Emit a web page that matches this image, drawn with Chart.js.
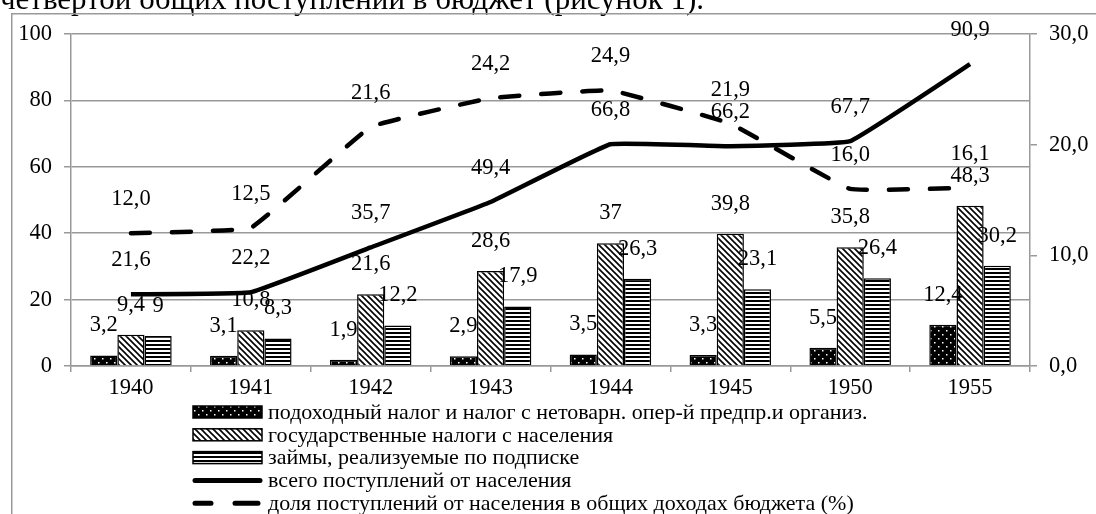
<!DOCTYPE html>
<html>
<head>
<meta charset="utf-8">
<script src="https://cdn.jsdelivr.net/npm/chart.js@4/dist/chart.umd.min.js"></script>
<style>
  html, body { margin: 0; padding: 0; background: #fff; overflow: hidden; }
  #chart { display: block; }
</style>
</head>
<body>
<canvas id="chart" width="1096" height="514"></canvas>
<script>
const years = ['1940', '1941', '1942', '1943', '1944', '1945', '1950', '1955'];
const incomeTax = [3.2, 3.1, 1.9, 2.9, 3.5, 3.3, 5.5, 12.4];
const stateTaxes = [9.4, 10.8, 21.6, 28.6, 37, 39.8, 35.8, 48.3];
const loans = [9, 8.3, 12.2, 17.9, 26.3, 23.1, 26.4, 30.2];
const totalIncome = [21.6, 22.2, 35.7, 49.4, 66.8, 66.2, 67.7, 90.9];
const budgetShare = [12.0, 12.5, 21.6, 24.2, 24.9, 21.9, 16.0, 16.1];
const leftTicks = [0, 20, 40, 60, 80, 100];
const rightTicks = [0, 10, 20, 30];
const seriesNames = [
    'подоходный налог и налог с нетоварн. опер-й предпр.и организ.',
    'государственные налоги с населения',
    'займы, реализуемые по подписке',
    'всего поступлений от населения',
    'доля поступлений от населения в общих доходах бюджета (%)'
];
const leadText = 'четвертой общих поступлений в бюджет (рисунок 1).';

const FONT = "'Liberation Serif', 'Times New Roman', serif";
const GRAY = '#999';

function tile(w, h, paint) {
    const c = document.createElement('canvas');
    c.width = w; c.height = h;
    const g = c.getContext('2d');
    paint(g);
    return document.getElementById('chart').getContext('2d').createPattern(c, 'repeat');
}

const dotFill = tile(8, 8, g => {
    g.fillStyle = '#000';
    g.fillRect(0, 0, 8, 8);
    g.fillStyle = '#fff';
    g.fillRect(2, 2, 1.5, 1.5);
    g.fillRect(6, 6, 1.5, 1.5);
});
const diagFill = tile(6, 6, g => {
    g.fillStyle = '#fff';
    g.fillRect(0, 0, 6, 6);
    g.strokeStyle = '#000';
    g.lineWidth = 1.6;
    g.beginPath();
    g.moveTo(-1, -1); g.lineTo(7, 7);
    g.moveTo(-1, 5); g.lineTo(1, 7);
    g.moveTo(5, -1); g.lineTo(7, 1);
    g.stroke();
});
const stripeFill = tile(4, 4, g => {
    g.fillStyle = '#fff';
    g.fillRect(0, 0, 4, 4);
    g.fillStyle = '#000';
    g.fillRect(0, 0, 4, 2);
});

const comma = v => String(v).replace('.', ',');
const comma1 = v => v.toFixed(1).replace('.', ',');

// how each series prints its value labels, and how far above the mark
const labelFmt = [comma, comma, comma, comma1, comma1];
const labelLift = [30, 30, 30, 34, 34];

// page text cut off above the chart, and the grey frame round the chart
const pageBits = {
    id: 'pageBits',
    beforeDraw(chart) {
        const ctx = chart.ctx;
        ctx.save();
        ctx.fillStyle = '#000';
        ctx.font = '31px ' + FONT;
        ctx.textBaseline = 'alphabetic';
        ctx.fillText(leadText, 0, 8.5);
        ctx.strokeStyle = GRAY;
        ctx.lineWidth = 1.5;
        ctx.beginPath();
        ctx.moveTo(11.75, 514);
        ctx.lineTo(11.75, 13.75);
        ctx.lineTo(1096, 13.75);
        ctx.stroke();
        ctx.restore();
    }
};

const valueLabels = {
    id: 'valueLabels',
    afterDatasetsDraw(chart) {
        const ctx = chart.ctx;
        ctx.save();
        ctx.font = '22.5px ' + FONT;
        ctx.fillStyle = '#000';
        ctx.textAlign = 'center';
        ctx.textBaseline = 'middle';
        chart.data.datasets.forEach((ds, i) => {
            chart.getDatasetMeta(i).data.forEach((el, j) => {
                ctx.fillText(labelFmt[i](ds.data[j]), el.x, el.y - labelLift[i]);
            });
        });
        ctx.restore();
    }
};

const bottomLegend = {
    id: 'bottomLegend',
    afterDraw(chart) {
        const ctx = chart.ctx;
        const x0 = 193, x1 = 262, rowH = 22.8, top = 412;
        ctx.save();
        ctx.font = '22px ' + FONT;
        ctx.textBaseline = 'middle';
        const fills = [dotFill, diagFill, stripeFill];
        seriesNames.forEach((name, i) => {
            const y = top + i * rowH;
            if (i < 3) {
                ctx.fillStyle = fills[i];
                ctx.fillRect(x0, y - 6, x1 - x0, 12);
                ctx.strokeStyle = '#000';
                ctx.lineWidth = 1.5;
                ctx.strokeRect(x0, y - 6, x1 - x0, 12);
            } else {
                ctx.strokeStyle = '#000';
                ctx.lineWidth = 5;
                ctx.lineCap = 'round';
                ctx.beginPath();
                if (i === 3) {
                    ctx.moveTo(x0 + 2, y); ctx.lineTo(x1 - 2, y);
                } else {
                    ctx.moveTo(x0 + 2, y); ctx.lineTo(x0 + 18, y);
                    ctx.moveTo(x0 + 42, y); ctx.lineTo(x1 - 4, y);
                }
                ctx.stroke();
            }
            ctx.fillStyle = '#000';
            ctx.fillText(name, 268, y + 1);
        });
        ctx.restore();
    }
};

function drawChart() {
    new Chart(document.getElementById('chart'), {
        type: 'bar',
        data: {
            labels: years,
            datasets: [
                { label: seriesNames[0], data: incomeTax, backgroundColor: dotFill, borderColor: '#000', borderWidth: 1.5, yAxisID: 'y', order: 2 },
                { label: seriesNames[1], data: stateTaxes, backgroundColor: diagFill, borderColor: '#000', borderWidth: 1.5, yAxisID: 'y', order: 2 },
                { label: seriesNames[2], data: loans, backgroundColor: stripeFill, borderColor: '#000', borderWidth: 1.5, yAxisID: 'y', order: 2 },
                { type: 'line', label: seriesNames[3], data: totalIncome, borderColor: '#000', borderWidth: 4.5, pointRadius: 0, tension: 0.08, yAxisID: 'y', order: 1 },
                { type: 'line', label: seriesNames[4], data: budgetShare, borderColor: '#000', borderWidth: 4.5, borderDash: [19, 22], borderCapStyle: 'round', pointRadius: 0, tension: 0.08, yAxisID: 'y1', order: 0 }
            ]
        },
        options: {
            responsive: false,
            animation: false,
            categoryPercentage: 0.68,
            barPercentage: 1,
            layout: { padding: { top: 34, left: 0, right: 0, bottom: 0 } },
            plugins: { legend: { display: false }, tooltip: { enabled: false } },
            scales: {
                x: {
                    offset: true,
                    grid: { offset: true, drawOnChartArea: false, tickLength: 6, color: GRAY, lineWidth: 1.5 },
                    border: { color: GRAY, width: 1.5 },
                    ticks: { color: '#000', font: { family: FONT, size: 22.5 }, padding: 3, maxRotation: 0 },
                    afterFit: s => { s.height = 514 - 366; }
                },
                y: {
                    position: 'left',
                    min: 0, max: 100,
                    afterBuildTicks: s => { s.ticks = leftTicks.map(v => ({ value: v })); },
                    grid: { color: GRAY, lineWidth: 1.5, tickLength: 7 },
                    border: { color: GRAY, width: 1.5 },
                    ticks: { color: '#000', font: { family: FONT, size: 22.5 }, padding: 12 },
                    afterFit: s => { s.width = 71; }
                },
                y1: {
                    position: 'right',
                    min: 0, max: 30,
                    afterBuildTicks: s => { s.ticks = rightTicks.map(v => ({ value: v })); },
                    grid: { drawOnChartArea: false, color: GRAY, lineWidth: 1.5, tickLength: 7 },
                    border: { color: GRAY, width: 1.5 },
                    ticks: { color: '#000', font: { family: FONT, size: 22.5 }, padding: 12, callback: v => comma1(v) },
                    afterFit: s => { s.width = 1096 - 1030; }
                }
            }
        },
        plugins: [pageBits, valueLabels, bottomLegend]
    });
}

document.fonts.load("22px 'Liberation Serif'").then(drawChart, drawChart);
</script>
</body>
</html>
